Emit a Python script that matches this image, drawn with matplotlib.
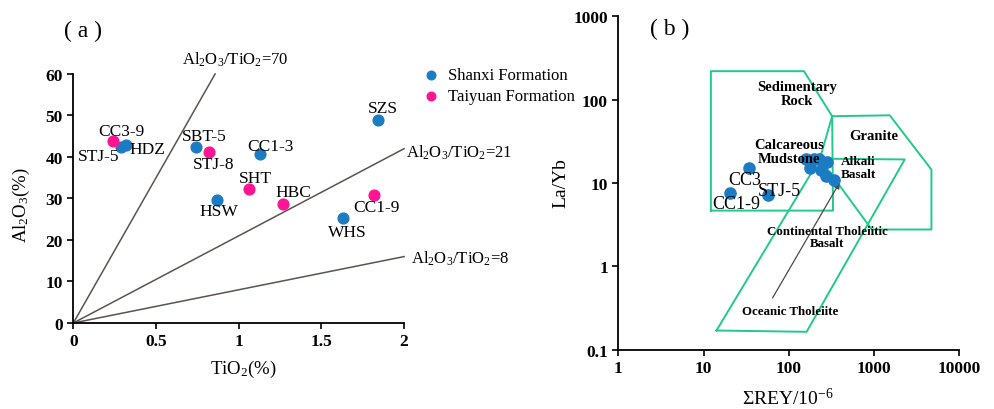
import matplotlib
matplotlib.use("Agg")
import matplotlib.pyplot as plt
from matplotlib.ticker import FuncFormatter, FixedLocator

plt.rcParams["font.family"] = ["Liberation Serif", "DejaVu Serif"]
plt.rcParams["mathtext.fontset"] = "custom"
plt.rcParams["mathtext.rm"] = "Liberation Serif"
plt.rcParams["mathtext.it"] = "Liberation Serif:italic"
plt.rcParams["mathtext.bf"] = "Liberation Serif:bold"

# ---- panel (a) data: TiO2 vs Al2O3 (%)
shanxi_names = ["STJ-5", "HDZ", "SBT-5", "CC1-3", "SZS", "HSW", "WHS"]
shanxi_tio2 = [0.29, 0.32, 0.74, 1.13, 1.84, 0.87, 1.63]
shanxi_al2o3 = [42.3, 42.9, 42.5, 40.6, 49.0, 29.6, 25.2]

taiyuan_names = ["CC3-9", "STJ-8", "SHT", "HBC", "CC1-9"]
taiyuan_tio2 = [0.24, 0.82, 1.06, 1.27, 1.82]
taiyuan_al2o3 = [43.9, 41.2, 32.2, 28.7, 30.9]

ratios = [70, 21, 8]

# ---- panel (b) data: sum REY vs La/Yb
rey_sum = [159, 197, 225, 284, 177, 242, 272, 338, 34.3, 20.4, 56.4]
la_yb = [19.5, 19.7, 19.2, 17.9, 15.2, 14.2, 12.3, 10.9, 15.1, 7.55, 7.2]

# field boundaries of the discrimination diagram
sed_x = [12.2, 12.2, 151, 323, 331, 12.2]
sed_y = [4.67, 220, 220, 63.4, 4.67, 4.67]
granite_x = [323, 1531, 4721, 4721, 942, 232, 323]
granite_y = [63.4, 65, 14.5, 2.77, 2.77, 19.6, 63.4]
tholeiite_x = [14.2, 162, 2296, 232, 14.2]
tholeiite_y = [0.17, 0.164, 19.2, 19.6, 0.17]

BLUE = "#1b7cc4"
PINK = "#ff1493"
GREEN = "#21c98c"
LINE = "#5b5350"

fig = plt.figure(figsize=(9.94, 4.10), dpi=100)

# ================= (a)
ax = fig.add_axes([0.0738, 0.2098, 0.3327, 0.6073])
for r in ratios:
    x_end = min(2.0, 60.0 / r)
    ax.plot([0, x_end], [0, r * x_end], color=LINE, lw=1.1, clip_on=False, zorder=1)

ax.scatter(shanxi_tio2, shanxi_al2o3, s=60, color=BLUE, zorder=3,
           label="Shanxi Formation", clip_on=False)
ax.scatter(taiyuan_tio2, taiyuan_al2o3, s=60, color=PINK, zorder=3,
           label="Taiyuan Formation", clip_on=False)

label_pos_a = {
    "CC3-9": (0.29, 46.3), "STJ-5": (0.15, 40.3), "HDZ": (0.45, 41.9),
    "SBT-5": (0.79, 45.1), "STJ-8": (0.85, 38.3), "CC1-3": (1.19, 42.7),
    "SZS": (1.875, 51.8), "SHT": (1.10, 34.9), "HBC": (1.33, 31.6),
    "HSW": (0.88, 26.9), "CC1-9": (1.835, 27.9), "WHS": (1.655, 22.0),
}
for name, (tx, ty) in label_pos_a.items():
    ax.text(tx, ty, name, fontsize=12.5, ha="center", va="center", zorder=4)

ax.text(0.98, 63.6, r"Al$_2$O$_3$/TiO$_2$=70", fontsize=12, ha="center", va="center")
ax.text(2.01, 41.2, r"Al$_2$O$_3$/TiO$_2$=21", fontsize=12, ha="left", va="center")
ax.text(2.04, 15.6, r"Al$_2$O$_3$/TiO$_2$=8", fontsize=12, ha="left", va="center")

ax.set_xlim(0, 2)
ax.set_ylim(0, 60)
ax.set_xticks([0, 0.5, 1, 1.5, 2])
ax.set_xticklabels(["0", "0.5", "1", "1.5", "2"])
ax.set_yticks(range(0, 61, 10))
for s in ["top", "right"]:
    ax.spines[s].set_visible(False)
for s in ["left", "bottom"]:
    ax.spines[s].set_linewidth(1.3)
ax.tick_params(direction="out", length=4, width=1.2, labelsize=12.5)
for t in ax.get_xticklabels() + ax.get_yticklabels():
    t.set_fontweight("bold")
ax.set_xlabel(r"TiO$_2$(%)", fontsize=13.5)
ax.set_ylabel(r"Al$_2$O$_3$(%)", fontsize=13.5)
ax.xaxis.set_label_coords(0.513, -0.142)
ax.yaxis.set_label_coords(-0.125, 0.478)

fig.legend(loc="upper left", bbox_to_anchor=(0.41, 0.85), frameon=False,
           fontsize=12, handletextpad=0.0, labelspacing=0.3,
           borderaxespad=0, markerscale=0.8)
fig.text(0.083, 0.923, "( a )", fontsize=17, ha="center", va="center")

# ================= (b)
bx = fig.add_axes([0.622, 0.1446, 0.343, 0.813])
bx.set_xscale("log")
bx.set_yscale("log")
bx.plot(sed_x, sed_y, color=GREEN, lw=1.4, zorder=1)
bx.plot(granite_x, granite_y, color=GREEN, lw=1.4, zorder=1)
bx.plot(tholeiite_x, tholeiite_y, color=GREEN, lw=1.4, zorder=1)
bx.scatter(rey_sum, la_yb, s=65, color=BLUE, zorder=3)
bx.annotate("", xy=(397, 10.2), xytext=(64.6, 0.418),
            arrowprops=dict(arrowstyle="-|>", color="#4a4a4a", lw=0.9,
                            mutation_scale=9, shrinkA=0, shrinkB=0), zorder=2)

bx.text(125, 118, "Sedimentary\nRock", fontsize=10.5, fontweight="bold",
        ha="center", va="center", linespacing=1.15)
bx.text(1000, 37, "Granite", fontsize=10.5, fontweight="bold", ha="center", va="center")
bx.text(102, 24, "Calcareous\nMudstone", fontsize=10.5, fontweight="bold",
        ha="center", va="center", linespacing=1.15)
bx.text(405, 15.5, "Alkali\nBasalt", fontsize=9.5, fontweight="bold",
        ha="left", va="center", linespacing=1.1)
bx.text(30.6, 10.9, "CC3", fontsize=13, ha="center", va="center", zorder=4)
bx.text(78, 8.2, "STJ-5", fontsize=13, ha="center", va="center", zorder=4)
bx.text(24, 5.7, "CC1-9", fontsize=13, ha="center", va="center", zorder=4)
bx.text(285, 2.25, "Continental Tholeiitic\nBasalt", fontsize=9.3, fontweight="bold",
        ha="center", va="center", linespacing=1.1)
bx.text(105, 0.29, "Oceanic Tholeiite", fontsize=9.3, fontweight="bold",
        ha="center", va="center")

bx.set_xlim(1, 10000)
bx.set_ylim(0.1, 1000)
fmt = FuncFormatter(lambda v, _: f"{v:g}")
bx.xaxis.set_major_locator(FixedLocator([1, 10, 100, 1000, 10000]))
bx.yaxis.set_major_locator(FixedLocator([0.1, 1, 10, 100, 1000]))
bx.xaxis.set_major_formatter(fmt)
bx.yaxis.set_major_formatter(fmt)
bx.minorticks_off()
for s in ["top", "right"]:
    bx.spines[s].set_visible(False)
for s in ["left", "bottom"]:
    bx.spines[s].set_linewidth(1.3)
bx.tick_params(direction="out", length=4, width=1.2, labelsize=12.5)
for t in bx.get_xticklabels() + bx.get_yticklabels():
    t.set_fontweight("bold")
bx.set_xlabel(r"ΣREY/10$^{-6}$", fontsize=14)
bx.set_ylabel("La/Yb", fontsize=14)
bx.xaxis.set_label_coords(0.498, -0.112)
bx.yaxis.set_label_coords(-0.142, 0.503)
fig.text(0.674, 0.927, "( b )", fontsize=17, ha="center", va="center")

fig.savefig("out.png", dpi=100)
